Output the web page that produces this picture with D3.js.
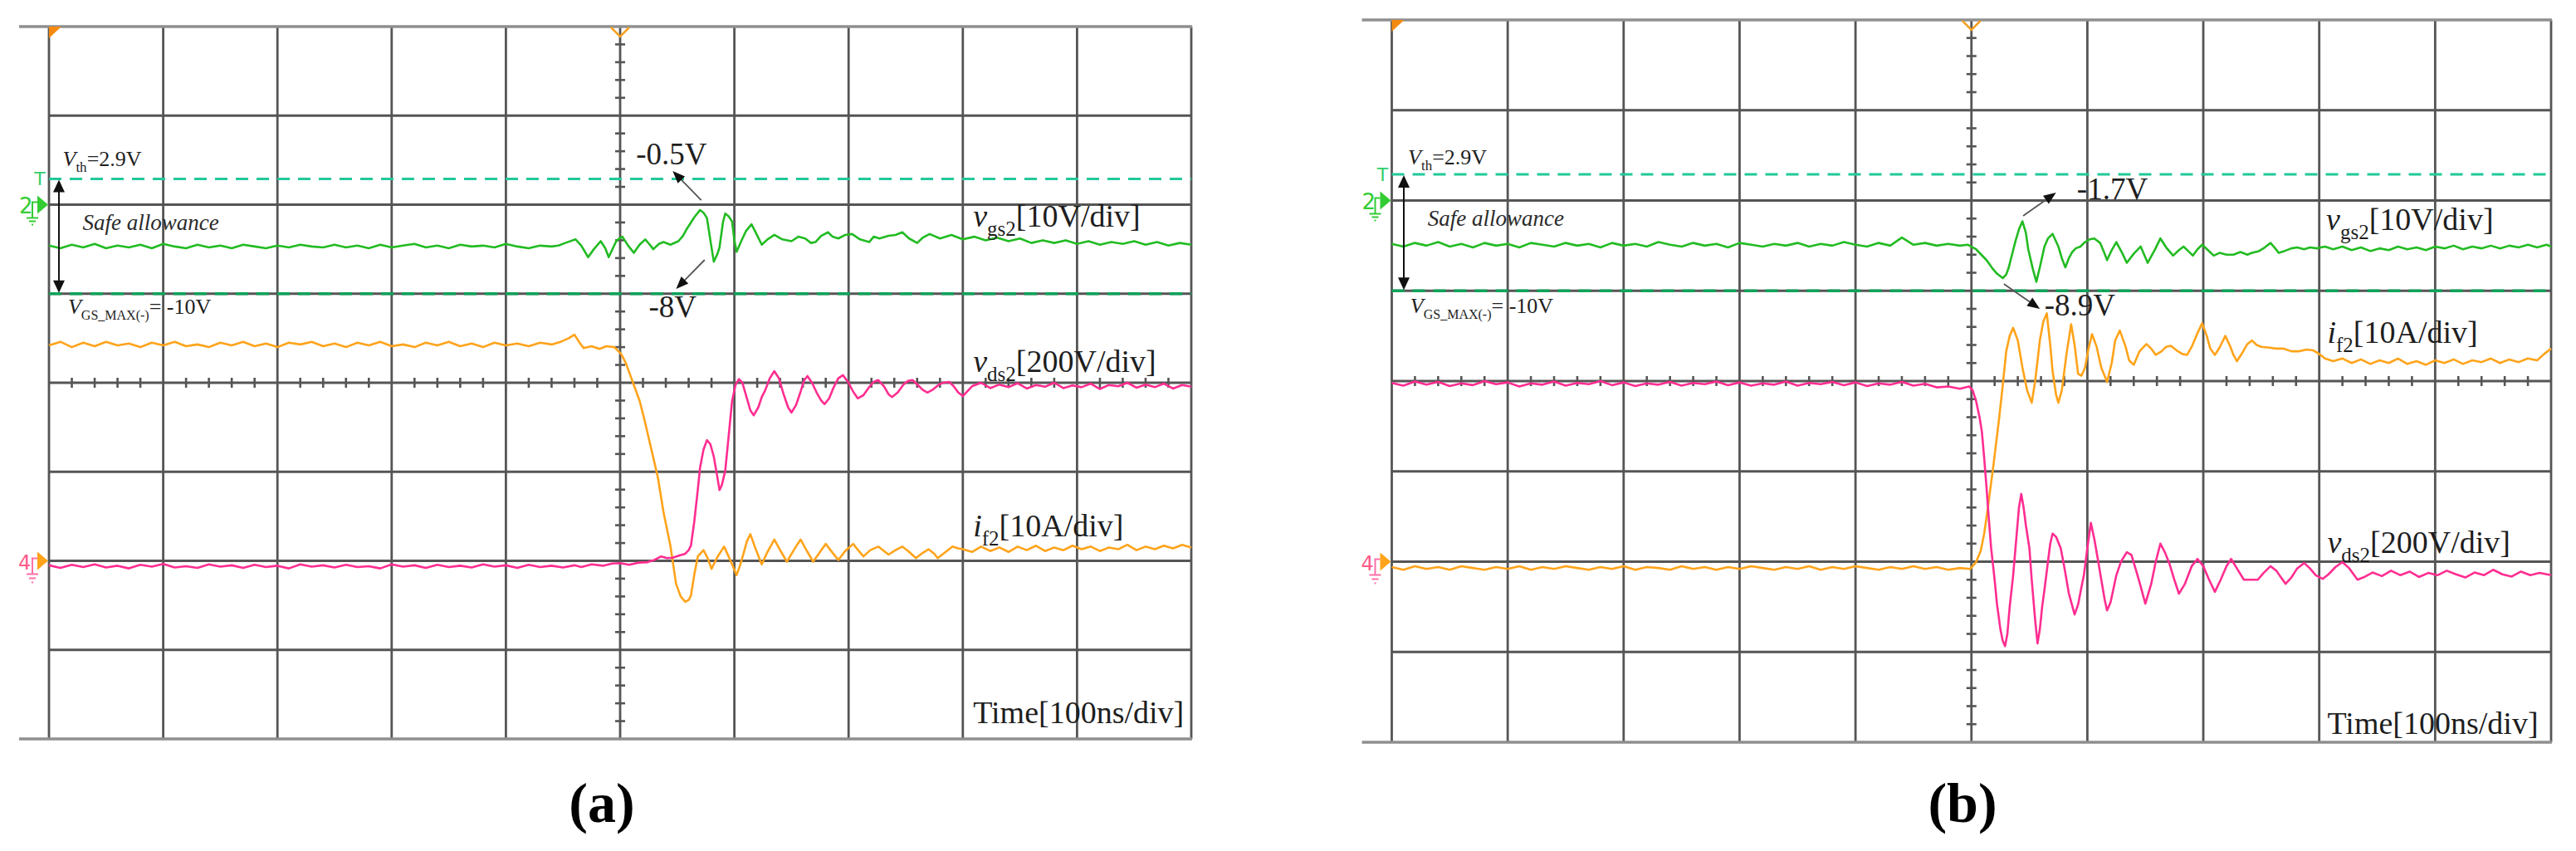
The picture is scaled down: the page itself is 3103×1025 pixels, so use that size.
<!DOCTYPE html>
<html>
<head>
<meta charset="utf-8">
<script src="https://cdn.jsdelivr.net/npm/d3@7/dist/d3.min.js"></script>
<style>
  body { margin: 0; background: #fff; }
  svg { display: block; }
  text { font-family: "Liberation Serif", "Times New Roman", serif; fill: #1e1e1e; }
</style>
</head>
<body>
<svg id="chart" width="3103" height="1025"></svg>
<script>
/* ========================================
   Turn-off waveforms, two scope captures (a) and (b)
   time in ns (0..1000, 100 ns/div), vgs in V, vds in V, if in A
   ======================================== */

// scope settings
const timePerDiv = 100;   // ns/div
const gsPerDiv = 10;      // V/div
const dsPerDiv = 200;     // V/div
const ifPerDiv = 10;      // A/div
const gsZeroDiv = 2;      // ch2 ground, divisions from top
const ch4ZeroDiv = 6;     // ch4 ground, divisions from top
const gridTimes = [0, 100, 200, 300, 400, 500, 600, 700, 800, 900, 1000];
const gridDivs = [0, 1, 2, 3, 4, 5, 6, 7, 8];
const vth = 2.9;
const vgsMaxNeg = -10;

// ---- (a) ----
const gsA = [
  [0,-4.6],[10,-4.9],[20,-4.5],[30,-4.8],[40,-4.4],[50,-4.9],[60,-4.6],[70,-4.8],[80,-4.5],[90,-4.9],
  [100,-4.4],[110,-4.7],[120,-4.9],[130,-4.5],[140,-4.8],[150,-4.6],[160,-4.9],[170,-4.5],[180,-4.7],[190,-4.9],
  [200,-4.6],[210,-4.8],[220,-4.5],[230,-4.7],[240,-4.8],[250,-4.5],[260,-4.8],[270,-4.6],[280,-4.9],[290,-4.5],
  [300,-4.8],[310,-4.6],[320,-4.4],[330,-4.8],[340,-4.6],[350,-4.9],[360,-4.5],[370,-4.7],[380,-4.6],[390,-4.8],
  [400,-4.4],[410,-4.7],[420,-4.9],[430,-4.6],[440,-4.7],[446,-4.6],[452,-4.3],[461,-3.9],[466,-4.6],[472,-5.9],
  [477,-5.0],[483,-4.1],[487,-4.9],[490,-5.9],[494,-4.8],[497,-4.0],[502,-3.6],[507,-4.6],[512,-5.4],[517,-4.5],
  [522,-3.9],[526,-4.5],[529,-5.0],[534,-4.4],[538,-4.2],[544,-4.5],[551,-4.1],[555,-3.5],[558,-2.8],[562,-2.0],
  [565,-1.4],[570,-0.6],[573,-0.9],[576,-1.5],[579,-4.0],[582,-6.4],[585,-5.6],[587,-4.8],[590,-2.0],[592,-1.0],
  [595,-1.3],[598,-1.9],[600,-4.0],[602,-5.3],[606,-4.1],[610,-3.0],[615,-2.2],[619,-3.2],[624,-4.5],[629,-3.9],
  [635,-3.4],[642,-3.9],[650,-4.1],[656,-3.6],[662,-3.8],[667,-4.3],[671,-4.2],[676,-3.5],[682,-3.1],[686,-3.6],
  [691,-3.8],[697,-3.4],[703,-3.3],[710,-3.9],[718,-4.2],[722,-3.6],[727,-3.8],[735,-3.5],[741,-3.4],[747,-3.1],
  [753,-3.8],[760,-4.3],[765,-3.7],[771,-3.3],[780,-3.8],[790,-3.4],[800,-3.9],[810,-3.6],[820,-4.0],[830,-3.7],
  [840,-4.1],[850,-3.8],[860,-4.3],[870,-4.0],[880,-4.3],[890,-4.0],[900,-4.4],[910,-4.1],[920,-4.5],[930,-4.2],
  [940,-4.4],[950,-4.1],[960,-4.5],[970,-4.2],[980,-4.6],[990,-4.3],[1000,-4.5]
];
const dsA = [
  [0,-10],[10,-16],[20,-9],[30,-14],[40,-8],[50,-15],[60,-11],[70,-17],[80,-9],[90,-13],
  [100,-7],[110,-15],[120,-12],[130,-16],[140,-8],[150,-13],[160,-10],[170,-16],[180,-9],[190,-14],
  [200,-11],[210,-17],[220,-8],[230,-13],[240,-10],[250,-15],[260,-9],[270,-14],[280,-12],[290,-17],
  [300,-8],[310,-13],[320,-10],[330,-16],[340,-9],[350,-14],[360,-11],[370,-15],[380,-8],[390,-13],
  [400,-10],[410,-16],[420,-9],[430,-14],[440,-11],[450,-15],[460,-10],[466,-14],[475,-8],[485,-11],
  [493,-6],[500,-5],[508,-9],[516,-4],[524,-3],[530,2],[536,10],[541,6],[546,7],[552,12],
  [557,16],[560,24],[562,34],[565,90],[568,160],[570,210],[573,250],[576,271],[579,262],[582,234],
  [585,190],[587,159],[589,170],[592,202],[595,280],[598,359],[601,395],[604,408],[607,400],[611,365],
  [614,338],[617,327],[621,345],[624,368],[627,383],[631,410],[635,426],[639,410],[643,375],[647,345],
  [650,333],[654,350],[658,380],[661,405],[664,415],[668,400],[672,378],[676,360],[679,352],[683,365],
  [687,390],[691,410],[695,417],[700,400],[704,380],[708,365],[713,372],[718,390],[722,402],[726,406],
  [731,392],[735,374],[738,368],[743,378],[748,396],[752,404],[756,406],[761,394],[765,384],[769,378],
  [774,385],[779,396],[783,400],[788,402],[792,392],[796,378],[800,370],[808,392],[816,400],[824,388],
  [832,396],[840,390],[848,399],[856,387],[864,395],[872,391],[880,400],[888,388],[896,394],[904,390],
  [912,398],[920,386],[928,395],[936,392],[944,400],[952,389],[960,396],[968,390],[976,398],[984,387],
  [992,395],[1000,391]
];
const ifA = [
  [0,24.2],[10,24.6],[20,24.0],[30,24.5],[40,24.1],[50,24.6],[60,24.2],[70,24.4],[80,24.0],[90,24.5],
  [100,24.2],[110,24.6],[120,24.1],[130,24.3],[140,24.0],[150,24.5],[160,24.2],[170,24.6],[180,24.1],[190,24.4],
  [200,24.0],[210,24.5],[220,24.3],[230,24.6],[240,24.1],[250,24.4],[260,24.0],[270,24.5],[280,24.2],[290,24.6],
  [300,24.1],[310,24.3],[320,24.0],[330,24.5],[340,24.2],[350,24.6],[360,24.1],[370,24.4],[380,24.0],[390,24.5],
  [400,24.2],[410,24.4],[420,24.1],[430,24.5],[440,24.3],[448,24.6],[455,25.0],[460,25.4],[464,24.6],[468,23.9],
  [475,24.1],[482,23.8],[488,24.1],[495,24.0],[501,23.2],[505,22.2],[509,20.8],[513,19.4],[517,18.0],[521,16.0],
  [525,13.8],[529,11.6],[533,9.4],[538,5.45],[544,1.7],[549,-2.6],[553,-4.0],[557,-4.6],[560,-4.4],[562,-3.9],
  [565,-1.5],[568,0.5],[573,1.2],[577,0.2],[580,-0.9],[585,0.4],[591,1.6],[596,0.2],[602,-1.6],[605,-0.5],
  [608,0.8],[611,2.2],[614,3.0],[619,1.2],[624,-0.4],[629,1.0],[635,2.4],[641,1.0],[646,-0.1],[652,1.2],
  [658,2.4],[664,1.0],[669,-0.1],[675,1.0],[680,1.9],[686,0.9],[691,0.1],[697,1.1],[704,1.9],[709,1.1],
  [713,0.5],[719,1.2],[726,1.6],[731,1.1],[735,0.7],[741,1.2],[747,1.6],[753,1.0],[759,0.3],[765,0.9],
  [770,1.3],[775,0.8],[778,0.3],[785,1.0],[791,1.6],[796,1.4],[800,1.3],[808,1.0],[816,1.6],[824,1.1],
  [832,1.5],[840,1.0],[848,1.6],[856,1.2],[864,1.7],[872,1.1],[880,1.5],[888,1.2],[896,1.7],[904,1.3],
  [912,1.6],[920,1.1],[928,1.5],[936,1.3],[944,1.8],[952,1.2],[960,1.6],[968,1.3],[976,1.7],[984,1.4],
  [992,1.8],[1000,1.5]
];

// ---- (b) ----
const gsB = [
  [0,-4.8],[10,-5.1],[20,-4.7],[30,-5.0],[40,-4.6],[50,-5.1],[60,-4.8],[70,-5.2],[80,-4.7],[90,-5.0],
  [100,-4.8],[110,-5.2],[120,-4.7],[130,-4.9],[140,-5.1],[150,-4.7],[160,-5.0],[170,-4.8],[180,-5.2],[190,-4.7],
  [200,-5.0],[210,-4.8],[220,-5.1],[230,-4.6],[240,-4.9],[250,-5.1],[260,-4.7],[270,-5.0],[280,-4.8],[290,-5.2],
  [300,-4.7],[310,-4.9],[320,-5.1],[330,-4.8],[340,-5.0],[350,-4.7],[360,-5.1],[370,-4.8],[380,-5.0],[390,-4.6],
  [400,-4.9],[410,-5.1],[420,-4.7],[430,-5.0],[440,-4.1],[450,-4.9],[460,-4.7],[470,-5.0],[480,-4.8],[490,-5.0],
  [497,-4.9],[504,-5.4],[513,-6.6],[518,-7.5],[522,-8.1],[527,-8.6],[530,-8.2],[532,-7.5],[535,-6.0],[538,-4.5],
  [541,-3.2],[544,-2.3],[547,-3.6],[549,-5.4],[553,-7.6],[556,-9.0],[559,-7.4],[563,-5.1],[566,-4.2],[570,-3.7],
  [575,-5.1],[578,-6.4],[581,-7.4],[584,-6.4],[587,-5.7],[590,-5.3],[594,-5.1],[598,-4.6],[602,-4.3],[606,-4.2],
  [611,-4.7],[614,-5.6],[617,-6.6],[621,-5.5],[625,-4.6],[630,-5.8],[634,-6.9],[640,-5.9],[646,-5.1],[649,-6.0],
  [652,-6.9],[658,-5.5],[663,-4.2],[668,-5.2],[674,-6.1],[679,-5.5],[683,-5.1],[687,-5.6],[691,-6.1],[695,-5.4],
  [699,-4.9],[704,-5.5],[709,-6.1],[714,-5.8],[720,-6.0],[726,-6.0],[732,-5.7],[738,-6.0],[742,-5.8],[748,-5.6],
  [753,-5.2],[758,-4.7],[762,-5.3],[765,-5.8],[770,-5.6],[776,-5.3],[781,-5.2],[787,-5.4],[792,-5.2],[798,-5.3],
  [805,-5.1],[812,-5.4],[820,-5.1],[828,-5.5],[836,-5.2],[844,-5.6],[852,-5.3],[860,-5.5],[868,-5.1],[876,-5.4],
  [884,-5.2],[892,-5.5],[900,-5.1],[908,-5.3],[916,-5.0],[924,-5.4],[932,-5.1],[940,-5.3],[948,-5.0],[956,-5.3],
  [964,-5.0],[972,-5.2],[980,-4.9],[988,-5.2],[996,-4.9],[1000,-5.1]
];
const dsB = [
  [0,396],[10,390],[20,399],[30,392],[40,398],[50,389],[60,395],[70,391],[80,400],[90,393],
  [100,397],[110,388],[120,395],[130,392],[140,399],[150,390],[160,396],[170,393],[180,400],[190,391],
  [200,397],[210,389],[220,395],[230,392],[240,398],[250,390],[260,396],[270,393],[280,399],[290,391],
  [300,397],[310,390],[320,395],[330,392],[340,399],[350,390],[360,396],[370,393],[380,398],[390,391],
  [400,397],[410,389],[420,395],[430,392],[440,398],[450,390],[460,394],[470,386],[480,388],[490,383],
  [498,388],[501,380],[504,356],[507,320],[509,288],[511,230],[513,165],[515,95],[517,30],[520,-40],
  [522,-93],[525,-150],[527,-175],[529,-187],[531,-160],[533,-100],[536,-30],[539,60],[541,120],[543,150],
  [545,120],[547,80],[550,30],[552,-40],[555,-130],[557,-181],[559,-150],[561,-100],[563,-62],[566,0],
  [568,40],[570,62],[573,55],[577,30],[580,-10],[584,-70],[589,-117],[592,-95],[595,-55],[597,-30],
  [600,30],[603,86],[606,50],[609,6],[612,-40],[615,-85],[617,-108],[620,-90],[625,-30],[629,0],
  [634,21],[638,15],[642,-19],[646,-55],[650,-93],[655,-50],[659,0],[663,40],[667,20],[671,-6],
  [675,-40],[679,-71],[684,-50],[690,-10],[695,6],[700,-10],[705,-40],[710,-67],[715,-40],[720,-10],
  [724,6],[729,-15],[735,-40],[741,-40],[747,-40],[752,-25],[758,-10],[763,-20],[767,-35],[771,-49],
  [776,-35],[781,-15],[787,-3],[792,-15],[797,-30],[803,-38],[808,-28],[814,-12],[820,-1],[826,-15],
  [833,-40],[838,-35],[846,-24],[854,-32],[862,-20],[870,-30],[878,-22],[886,-34],[894,-25],[902,-30],
  [910,-20],[918,-28],[926,-35],[934,-24],[942,-30],[950,-18],[958,-28],[966,-33],[974,-22],[982,-30],
  [990,-25],[1000,-30]
];
const ifB = [
  [0,-0.6],[10,-0.9],[20,-0.5],[30,-0.8],[40,-0.6],[50,-0.9],[60,-0.5],[70,-0.7],[80,-0.9],[90,-0.6],
  [100,-0.8],[110,-0.5],[120,-0.9],[130,-0.6],[140,-0.8],[150,-0.5],[160,-0.7],[170,-0.9],[180,-0.6],[190,-0.8],
  [200,-0.5],[210,-0.9],[220,-0.6],[230,-0.7],[240,-0.9],[250,-0.5],[260,-0.8],[270,-0.6],[280,-0.9],[290,-0.6],
  [300,-0.8],[310,-0.5],[320,-0.7],[330,-0.9],[340,-0.6],[350,-0.8],[360,-0.5],[370,-0.9],[380,-0.6],[390,-0.8],
  [400,-0.5],[410,-0.7],[420,-0.9],[430,-0.6],[440,-0.8],[450,-0.5],[460,-0.8],[470,-0.6],[480,-0.9],[490,-0.7],
  [499,-0.8],[504,-0.05],[508,1.2],[511,3.1],[514,5.8],[519,10.7],[524,16.0],[527,19.5],[530,23.3],[533,25.0],
  [536,25.9],[540,24.5],[544,21.5],[548,19.0],[552,17.6],[555,20.0],[559,24.5],[562,26.6],[565,27.5],[568,24.0],
  [570,21.1],[573,18.5],[575,17.6],[578,19.0],[582,23.0],[586,26.3],[589,24.0],[592,20.8],[595,20.6],[598,21.5],
  [601,23.6],[604,25.2],[608,23.8],[612,21.5],[617,19.9],[621,22.0],[624,24.5],[628,25.6],[633,23.8],[636,22.3],
  [640,21.8],[645,23.3],[651,24.1],[655,23.6],[659,22.9],[664,23.3],[668,23.8],[672,23.9],[677,23.4],[682,23.0],
  [686,22.9],[690,23.8],[695,25.3],[699,26.4],[703,25.0],[706,23.6],[710,22.9],[714,23.7],[719,25.0],[723,23.9],
  [726,22.9],[729,22.2],[734,23.2],[738,24.1],[742,24.5],[746,24.0],[750,23.8],[757,23.7],[763,23.6],[769,23.6],
  [776,23.3],[783,23.3],[789,23.5],[795,23.4],[800,23.0],[805,22.5],[812,22.2],[820,22.5],[828,22.0],[836,22.4],
  [844,21.9],[852,22.3],[860,22.0],[868,22.5],[876,21.9],[884,22.2],[892,21.8],[900,22.3],[908,22.0],[916,22.4],
  [924,21.9],[932,22.3],[940,22.1],[948,22.5],[956,22.0],[964,22.4],[972,22.1],[980,22.5],[988,22.3],[994,23.0],
  [1000,23.6]
];

// colours
const cGs = '#22bb22', cIf = '#ffa31a', cDs = '#ff2d91';
const cTh = '#22c99a', cMax = '#0fa35a', cGrid = '#555555', cEdge = '#8f8f8f';

// layout of the two captures; note positions are in (ns, divisions from top)
const panels = [
  {
    left: 59, right: 1435, top: 32, bottom: 890, caption: '(a)', capX: 725, capY: 990,
    gs: gsA, ds: dsA, fi: ifA, arrowT: 8.7,
    vthAt: [12, 1.566], safeAt: [29.5, 2.284], maxAt: [16.7, 3.226],
    peak: { text: '-0.5V', at: [514, 1.548], tail: [571, 1.949], head: [546, 1.622] },
    dip: { text: '-8V', at: [525, 3.263], tail: [574, 2.62], head: [549, 2.946] },
    gsLab: [809, 2.247], dsLab: [809, 3.879], fiLab: [809, 5.725], timeLab: [809, 7.823]
  },
  {
    left: 1676.5, right: 3073, top: 24, bottom: 894, caption: '(b)', capX: 2364, capY: 990,
    gs: gsB, ds: dsB, fi: ifB, arrowT: 10.4,
    vthAt: [14, 1.6], safeAt: [31, 2.28], maxAt: [16, 3.246],
    peak: { text: '-1.7V', at: [591, 1.986], tail: [544.6, 2.17], head: [573, 1.913] },
    dip: { text: '-8.9V', at: [563, 3.274], tail: [528, 2.924], head: [559, 3.2] },
    gsLab: [806, 2.326], dsLab: [807, 5.903], fiLab: [807, 3.577], timeLab: [807, 7.908]
  }
];

const svg = d3.select('#chart');

// text with italic symbol and subscript parts
function richText(g, x, y, parts, size) {
  const t = g.append('text').attr('x', x).attr('y', y).style('font-size', size + 'px');
  let shift = 0;
  parts.forEach(pt => {
    const sp = t.append('tspan').text(pt.s);
    const target = pt.sub ? Math.round(size * 0.28) : 0;
    if (target !== shift) { sp.attr('dy', target - shift); shift = target; }
    if (pt.sub) sp.style('font-size', Math.round(size * (pt.k || 0.66)) + 'px');
    if (pt.it) sp.style('font-style', 'italic');
  });
  return t;
}

function arrow(g, x1, y1, x2, y2) {
  const a = Math.atan2(y2 - y1, x2 - x1);
  const len = 15, half = 6;
  const bx = x2 - len * Math.cos(a), by = y2 - len * Math.sin(a);
  g.append('line')
    .attr('x1', x1).attr('y1', y1).attr('x2', bx).attr('y2', by)
    .attr('stroke', '#555').attr('stroke-width', 1.8);
  const px = -Math.sin(a) * half, py = Math.cos(a) * half;
  g.append('path')
    .attr('d', `M${x2},${y2}L${bx + px},${by + py}L${bx - px},${by - py}Z`)
    .attr('fill', '#111');
}

function drawPanel(p) {
  const x = d3.scaleLinear().domain([0, 10 * timePerDiv]).range([p.left, p.right]);
  const yDiv = d3.scaleLinear().domain([0, 8]).range([p.top, p.bottom]);
  const yGs = d3.scaleLinear().domain([gsZeroDiv * gsPerDiv, (gsZeroDiv - 8) * gsPerDiv]).range([p.top, p.bottom]);
  const yDs = d3.scaleLinear().domain([ch4ZeroDiv * dsPerDiv, (ch4ZeroDiv - 8) * dsPerDiv]).range([p.top, p.bottom]);
  const yIf = d3.scaleLinear().domain([ch4ZeroDiv * ifPerDiv, (ch4ZeroDiv - 8) * ifPerDiv]).range([p.top, p.bottom]);
  const g = svg.append('g');

  // Grid
  g.selectAll('.vgrid').data(gridTimes).join('line')
    .attr('x1', d => x(d)).attr('x2', d => x(d))
    .attr('y1', p.top).attr('y2', p.bottom)
    .attr('stroke', cGrid).attr('stroke-width', 2.8);
  g.selectAll('.hgrid').data(gridDivs.slice(1, -1)).join('line')
    .attr('x1', p.left).attr('x2', p.right)
    .attr('y1', d => yDiv(d)).attr('y2', d => yDiv(d))
    .attr('stroke', cGrid).attr('stroke-width', 2.8);
  g.selectAll('.edge').data([0, 8]).join('line')
    .attr('x1', p.left - 36).attr('x2', p.right + 1)
    .attr('y1', d => yDiv(d)).attr('y2', d => yDiv(d))
    .attr('stroke', cEdge).attr('stroke-width', 3.4);

  // minor ticks on the centre lines
  const xMid = x(5 * timePerDiv), yMid = yDiv(4);
  const tickDivs = d3.range(0.2, 8, 0.2).filter(d => Math.abs(d - Math.round(d)) > 0.05);
  const tickTimes = d3.range(20, 1000, 20).filter(d => d % 100 !== 0);
  g.selectAll('.tky').data(tickDivs).join('line')
    .attr('x1', xMid - 6).attr('x2', xMid + 6)
    .attr('y1', d => yDiv(d)).attr('y2', d => yDiv(d))
    .attr('stroke', cGrid).attr('stroke-width', 2.6);
  g.selectAll('.tkx').data(tickTimes).join('line')
    .attr('x1', d => x(d)).attr('x2', d => x(d))
    .attr('y1', yMid - 6).attr('y2', yMid + 6)
    .attr('stroke', cGrid).attr('stroke-width', 2.6);

  // threshold and negative gate limit
  g.append('line')
    .attr('x1', p.left).attr('x2', p.right).attr('y1', yGs(vth)).attr('y2', yGs(vth))
    .attr('stroke', cTh).attr('stroke-width', 3).attr('stroke-dasharray', '15,10');
  g.append('line')
    .attr('x1', p.left).attr('x2', p.right).attr('y1', yGs(vgsMaxNeg)).attr('y2', yGs(vgsMaxNeg))
    .attr('stroke', cMax).attr('stroke-width', 3.4).attr('stroke-dasharray', '15,10');

  // Traces
  const traces = [
    { data: p.gs, y: yGs, color: cGs },
    { data: p.fi, y: yIf, color: cIf },
    { data: p.ds, y: yDs, color: cDs }
  ];
  traces.forEach(tr => {
    g.append('path')
      .datum(tr.data)
      .attr('fill', 'none')
      .attr('stroke', tr.color)
      .attr('stroke-width', 2.6)
      .attr('stroke-linejoin', 'round')
      .attr('d', d3.line().x(d => x(d[0])).y(d => tr.y(d[1])));
  });

  // trigger markers
  g.append('path')
    .attr('d', `M${p.left},${p.top}L${p.left + 15},${p.top}L${p.left},${p.top + 14}Z`)
    .attr('fill', '#f58a10');
  g.append('path')
    .attr('d', `M${xMid - 11},${p.top + 1}L${xMid},${p.top + 12}L${xMid + 11},${p.top + 1}`)
    .attr('fill', 'none').attr('stroke', '#f5a020').attr('stroke-width', 2.5);

  // channel markers at the left edge
  const yT = yGs(vth), y2 = yGs(0), y4 = yIf(0), L = p.left;
  g.append('text').attr('x', L - 11).attr('y', yT + 8).attr('text-anchor', 'middle')
    .style('font-size', '22px').style('font-family', 'DejaVu Sans').style('fill', '#2fcf6a').text('T');
  g.append('text').attr('x', L - 36).attr('y', y2 + 10)
    .style('font-size', '26px').style('font-family', 'DejaVu Sans').style('fill', '#33cc33').text('2');
  g.append('path')
    .attr('d', `M${L - 20},${y2 + 8}V${y2 - 3}H${L - 14}M${L - 20},${y2 + 8}V${y2 + 16}M${L - 27},${y2 + 16}H${L - 13}M${L - 24},${y2 + 20}H${L - 16}M${L - 21},${y2 + 24}H${L - 19}`)
    .attr('fill', 'none').attr('stroke', '#33cc33').attr('stroke-width', 2);
  g.append('path')
    .attr('d', `M${L - 14},${y2 - 11}L${L - 1},${y2}L${L - 14},${y2 + 11}Z`)
    .attr('fill', '#33cc33');
  g.append('text').attr('x', L - 37).attr('y', y4 + 10)
    .style('font-size', '24px').style('font-family', 'DejaVu Sans').style('fill', '#ff5a8a').text('4');
  g.append('path')
    .attr('d', `M${L - 20},${y4 + 6}V${y4 - 3}H${L - 14}M${L - 20},${y4 + 6}V${y4 + 16}M${L - 27},${y4 + 16}H${L - 13}M${L - 24},${y4 + 21}H${L - 16}M${L - 21},${y4 + 26}H${L - 19}`)
    .attr('fill', 'none').attr('stroke', '#ff6fa8').attr('stroke-width', 2);
  g.append('path')
    .attr('d', `M${L - 14},${y4 - 11}L${L - 1},${y4}L${L - 14},${y4 + 11}Z`)
    .attr('fill', '#ffa31a');

  // safe allowance double arrow
  const xa = x(p.arrowT), ya1 = yGs(vth), ya2 = yGs(vgsMaxNeg);
  g.append('line').attr('x1', xa).attr('x2', xa).attr('y1', ya1 + 12).attr('y2', ya2 - 12)
    .attr('stroke', '#111').attr('stroke-width', 2);
  g.append('path')
    .attr('d', `M${xa},${ya1 + 1}L${xa - 7},${ya1 + 16}L${xa + 7},${ya1 + 16}Z M${xa},${ya2 - 1}L${xa - 7},${ya2 - 16}L${xa + 7},${ya2 - 16}Z`)
    .attr('fill', '#111');

  // small labels
  richText(g, x(p.vthAt[0]), yDiv(p.vthAt[1]), [
    { s: 'V', it: true }, { s: 'th', sub: true, k: 0.66 }, { s: '=2.9V' }
  ], 26);
  g.append('text').attr('x', x(p.safeAt[0])).attr('y', yDiv(p.safeAt[1]))
    .style('font-size', '27px').style('font-style', 'italic').style('fill', '#2b2b2b')
    .text('Safe allowance');
  richText(g, x(p.maxAt[0]), yDiv(p.maxAt[1]), [
    { s: 'V', it: true }, { s: 'GS_MAX(-)', sub: true, k: 0.6 }, { s: '= -10V' }
  ], 26);

  // peak annotations
  [p.peak, p.dip].forEach(n => {
    g.append('text').attr('x', x(n.at[0])).attr('y', yDiv(n.at[1]))
      .style('font-size', '37px').text(n.text);
    arrow(g, x(n.tail[0]), yDiv(n.tail[1]), x(n.head[0]), yDiv(n.head[1]));
  });

  // channel labels
  richText(g, x(p.gsLab[0]), yDiv(p.gsLab[1]), [
    { s: 'v', it: true }, { s: 'gs2', sub: true }, { s: '[10V/div]' }
  ], 38);
  richText(g, x(p.dsLab[0]), yDiv(p.dsLab[1]), [
    { s: 'v', it: true }, { s: 'ds2', sub: true }, { s: '[200V/div]' }
  ], 38);
  richText(g, x(p.fiLab[0]), yDiv(p.fiLab[1]), [
    { s: 'i', it: true }, { s: 'f2', sub: true }, { s: '[10A/div]' }
  ], 38);
  g.append('text').attr('x', x(p.timeLab[0])).attr('y', yDiv(p.timeLab[1]))
    .style('font-size', '38px').text('Time[100ns/div]');

  // caption
  g.append('text').attr('x', p.capX).attr('y', p.capY).attr('text-anchor', 'middle')
    .style('font-size', '68px').style('font-weight', 'bold').style('fill', '#000')
    .text(p.caption);
}

panels.forEach(drawPanel);
</script>
</body>
</html>
